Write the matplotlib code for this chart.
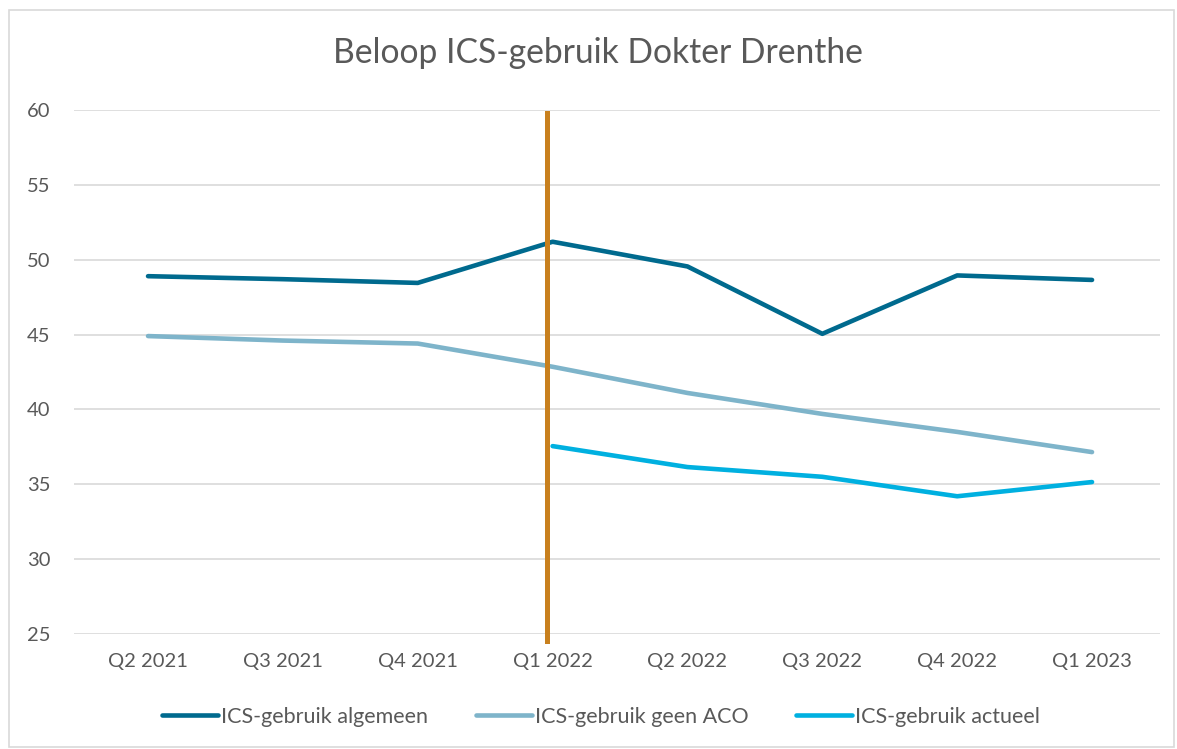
import matplotlib.pyplot as plt
from matplotlib.patches import Rectangle

plt.rcParams['font.family'] = ['Lato', 'DejaVu Sans']

quarters = ['Q2 2021', 'Q3 2021', 'Q4 2021', 'Q1 2022', 'Q2 2022', 'Q3 2022', 'Q4 2022', 'Q1 2023']
algemeen = [48.9, 48.7, 48.45, 51.2, 49.55, 45.05, 48.95, 48.65]
geen_aco = [44.9, 44.6, 44.4, 42.85, 41.1, 39.7, 38.5, 37.15]
actueel = [None, None, None, 37.55, 36.15, 35.5, 34.2, 35.15]

txt = '#595959'
fig = plt.figure(figsize=(11.77, 7.49), dpi=100)
ax = fig.add_axes([74 / 1177, 1 - 634 / 749, 1086 / 1177, 524 / 749])

# outer chart border
fig.patches.append(Rectangle((9 / 1177, 2 / 749), 1165 / 1177, 737 / 749,
                             transform=fig.transFigure, fill=False,
                             edgecolor='#d9d9d9', linewidth=1.2))

x = list(range(len(quarters)))
ax.plot(x, algemeen, color='#006A8E', lw=3.3, label='ICS-gebruik algemeen', solid_capstyle='round')
ax.plot(x, geen_aco, color='#7EB4CA', lw=3.3, label='ICS-gebruik geen ACO', solid_capstyle='round')
ax.plot(x[3:], actueel[3:], color='#00B0E0', lw=3.3, label='ICS-gebruik actueel', solid_capstyle='round')

# marker for the start of the new period
ax.plot([2.96, 2.96], [24.5, 59.8], color='#C8801E', lw=3.6, clip_on=False, zorder=5)

ax.set_ylim(25, 60)
ax.set_xlim(-0.549, 7.504)
ax.set_yticks(range(25, 61, 5))
ax.set_xticks(x)
ax.set_xticklabels(quarters)
ax.grid(axis='y', color='#d9d9d9', lw=1.2)
ax.set_axisbelow(True)
for s in ax.spines.values():
    s.set_visible(False)
ax.tick_params(length=0, colors=txt, labelsize=14.5)
ax.tick_params(axis='y', pad=34)
ax.tick_params(axis='x', pad=14)
for lab in ax.get_yticklabels():
    lab.set_horizontalalignment('left')

fig.text(598 / 1177, 1 - 53 / 749, 'Beloop ICS-gebruik Dokter Drenthe', ha='center', va='center',
         fontsize=24.2, color=txt)

fig.legend(loc='center', bbox_to_anchor=(601 / 1177, 1 - 717 / 749), ncol=3, frameon=False,
           fontsize=15.5, labelcolor=txt, handlelength=2.6, handletextpad=0.15, columnspacing=2.2)

fig.savefig('out.png', dpi=100)
